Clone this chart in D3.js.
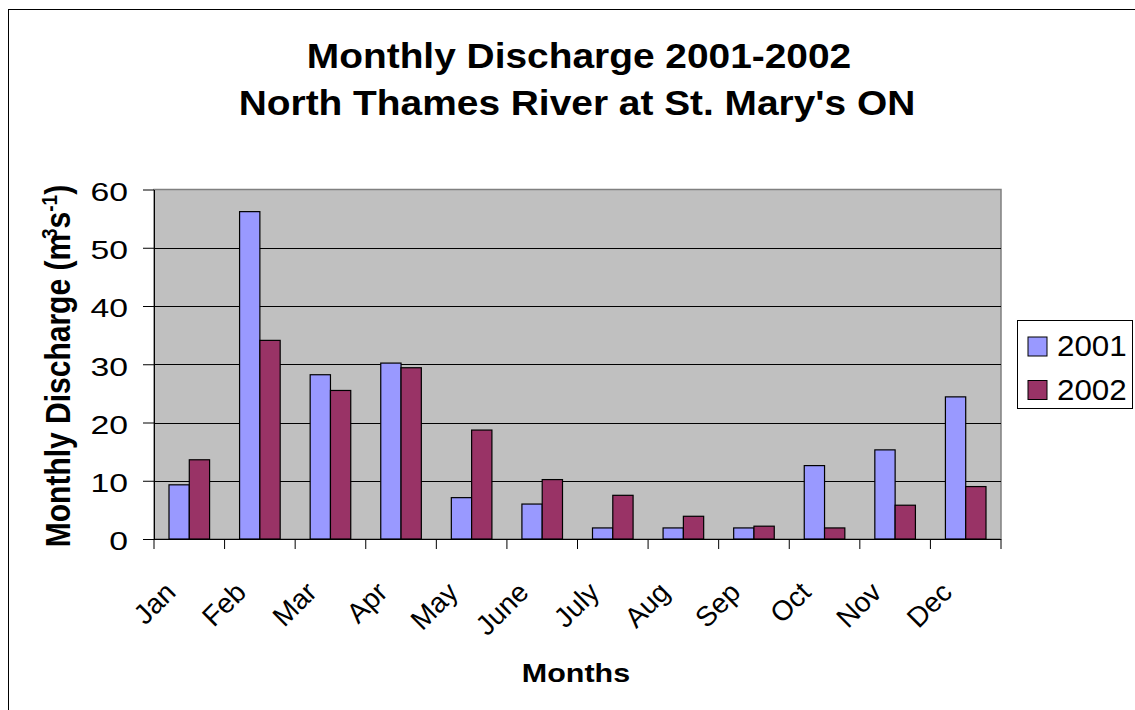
<!DOCTYPE html>
<html>
<head>
<meta charset="utf-8">
<script src="https://cdn.jsdelivr.net/npm/d3@7"></script>
<style>
  body { margin: 0; background: #fff; }
  svg text { font-family: "Liberation Sans", Arial, sans-serif; fill: #000; }
</style>
</head>
<body>
<svg id="chart" width="1135" height="710"></svg>
<script>
const months = ['Jan','Feb','Mar','Apr','May','June','July','Aug','Sep','Oct','Nov','Dec'];
const series = ['2001','2002'];
const values2001 = [9.3, 56.2, 28.2, 30.2, 7.1, 6.0, 1.9, 1.9, 1.9, 12.6, 15.3, 24.4];
const values2002 = [13.6, 34.1, 25.5, 29.4, 18.7, 10.2, 7.5, 3.9, 2.2, 1.9, 5.8, 9.0];
const yTicks = [0, 10, 20, 30, 40, 50, 60];

const colors = {'2001': '#9999FF', '2002': '#993366'};

const plot = {left: 154, right: 1001, top: 189.5, bottom: 539};

const svg = d3.select('#chart');

// text drawn at a point, then stretched horizontally like the original picture
let placeText = (sel, x, y, sx, rot = 0) =>
    sel.attr('x', 0).attr('y', 0)
       .attr('transform', `translate(${x},${y}) scale(${sx},1)` + (rot ? ` rotate(${rot})` : ''));

// outer chart frame
svg.append('rect')
    .attr('x', 8.5).attr('y', 9.5)
    .attr('width', 1300).attr('height', 900)
    .attr('fill', 'none').attr('stroke', '#000').attr('stroke-width', 1);

// title
svg.append('text')
    .attr('text-anchor', 'middle').attr('font-weight', 'bold').attr('font-size', 36)
    .text('Monthly Discharge 2001-2002')
    .call(placeText, 579, 68, 1.08);
svg.append('text')
    .attr('text-anchor', 'middle').attr('font-weight', 'bold').attr('font-size', 36)
    .text("North Thames River at St. Mary's ON")
    .call(placeText, 577, 115, 1.08);

const x0 = d3.scaleBand()
    .domain(months)
    .range([plot.left, plot.right])
    .paddingInner(0.425)
    .paddingOuter(0.2125);

const x1 = d3.scaleBand()
    .domain(series)
    .range([0, x0.bandwidth()]);

const y = d3.scaleLinear()
    .domain([0, 60])
    .range([plot.bottom, plot.top]);

// plot area
svg.append('rect')
    .attr('x', plot.left).attr('y', plot.top)
    .attr('width', plot.right - plot.left).attr('height', plot.bottom - plot.top)
    .attr('fill', '#C0C0C0').attr('stroke', '#808080').attr('stroke-width', 1.5);

// gridlines
svg.append('g')
    .selectAll('line')
    .data(yTicks.filter(t => t > 0 && t < 60))
    .enter()
    .append('line')
        .attr('x1', plot.left).attr('x2', plot.right)
        .attr('y1', d => Math.round(y(d)) + 0.5).attr('y2', d => Math.round(y(d)) + 0.5)
        .attr('stroke', '#000').attr('stroke-width', 1);

// bars
const rows = months.map((m, i) => ({month: m, '2001': values2001[i], '2002': values2002[i]}));

svg.append('g')
    .selectAll('g')
    .data(rows)
    .enter()
    .append('g')
        .attr('transform', d => `translate(${x0(d.month)},0)`)
    .selectAll('rect')
    .data(d => series.map(s => ({key: s, value: d[s]})))
    .enter()
    .append('rect')
        .attr('x', d => x1(d.key))
        .attr('y', d => y(d.value))
        .attr('width', x1.bandwidth())
        .attr('height', d => y(0) - y(d.value))
        .attr('fill', d => colors[d.key])
        .attr('stroke', '#000')
        .attr('stroke-width', 1.2);

// y axis
let yAxis = svg.append('g')
    .attr('transform', `translate(${plot.left},0)`)
    .call(d3.axisLeft(y).tickValues(yTicks).tickSize(11).tickSizeOuter(0));
yAxis.select('.domain').attr('stroke', '#000');
yAxis.selectAll('.tick line').attr('stroke', '#000');
yAxis.selectAll('.tick text')
    .attr('font-size', 25)
    .attr('font-family', '"Liberation Sans", Arial, sans-serif')
    .attr('text-anchor', 'end')
    .attr('dy', '0.35em')
    .each(function() {
        d3.select(this).call(placeText, -26, 2, 1.35);
    });

// x axis
const boundaries = months.map(m => x0(m) - x0.step() * x0.paddingInner() / 2);
boundaries[0] = plot.left;
boundaries.push(plot.right);

svg.append('line')
    .attr('x1', plot.left).attr('x2', plot.right)
    .attr('y1', plot.bottom + 0.5).attr('y2', plot.bottom + 0.5)
    .attr('stroke', '#000');

svg.append('g')
    .selectAll('line')
    .data(boundaries)
    .enter()
    .append('line')
        .attr('x1', d => d).attr('x2', d => d)
        .attr('y1', plot.bottom).attr('y2', plot.bottom + 10)
        .attr('stroke', '#000');

svg.append('g')
    .selectAll('text')
    .data(months)
    .enter()
    .append('text')
        .attr('font-size', 28)
        .attr('text-anchor', 'end')
        .text(d => d)
        .each(function(d) {
            d3.select(this).call(placeText, x0(d) + x0.bandwidth() / 2 - 12, 594, 1, -45);
        });

// axis titles
svg.append('text')
    .attr('text-anchor', 'middle').attr('font-weight', 'bold').attr('font-size', 26.5)
    .text('Months')
    .call(placeText, 576, 682, 1.15);

let yTitle = svg.append('text')
    .attr('text-anchor', 'middle').attr('font-weight', 'bold').attr('font-size', 30)
    .call(placeText, 70, 366, 1.15, -90);
yTitle.append('tspan').text('Monthly Discharge (m');
yTitle.append('tspan').attr('font-size', 19).attr('dy', -11).attr('dx', -5).text('3');
yTitle.append('tspan').attr('dy', 11).text('s');
yTitle.append('tspan').attr('font-size', 19).attr('dy', -11).text('-1');
yTitle.append('tspan').attr('dy', 11).text(')');

// legend
let legend = svg.append('g');
legend.append('rect')
    .attr('x', 1017.5).attr('y', 320.5)
    .attr('width', 115).attr('height', 88)
    .attr('fill', '#fff').attr('stroke', '#000').attr('stroke-width', 1);

let legendItem = legend.selectAll('g')
    .data(series)
    .enter()
    .append('g')
        .attr('transform', (d, i) => `translate(0,${i * 43.5})`);

legendItem.append('rect')
    .attr('x', 1028).attr('y', 337)
    .attr('width', 19).attr('height', 19)
    .attr('fill', d => colors[d])
    .attr('stroke', '#000').attr('stroke-width', 1);

legendItem.append('text')
    .attr('font-size', 29)
    .text(d => d)
    .each(function() {
        d3.select(this).call(placeText, 1057, 356, 1.08);
    });
</script>
</body>
</html>
